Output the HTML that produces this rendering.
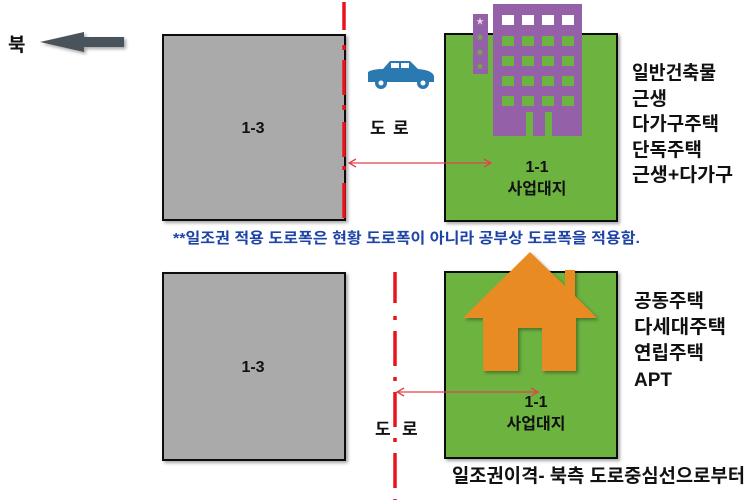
<!DOCTYPE html>
<html><head><meta charset="utf-8"><style>
html,body{margin:0;padding:0;background:#fff;}
svg{display:block;}
text{font-family:"Liberation Sans","Noto Sans CJK KR",sans-serif;font-weight:bold;}
</style></head><body>
<svg width="750" height="500" viewBox="0 0 750 500" xmlns="http://www.w3.org/2000/svg">
<defs>
<filter id="sh" x="-10%" y="-10%" width="130%" height="130%"><feDropShadow dx="2" dy="2" stdDeviation="1.5" flood-color="#000" flood-opacity="0.35"/></filter>
</defs>
<text x="8" y="51" font-size="19" fill="#111">북</text>
<polygon points="40,42 84,32 84,37 124,37 124,47 84,47 84,52" fill="#4a525b" filter="url(#sh)"/>
<rect x="163" y="35" width="182" height="185" fill="#a9aaa9" stroke="#111" stroke-width="2" filter="url(#sh)"/>
<text x="253" y="133" font-size="16" fill="#111" text-anchor="middle">1-3</text>
<rect x="445" y="34" width="172" height="187" fill="#6db33f" stroke="#111" stroke-width="2" filter="url(#sh)"/>
<rect x="473" y="14" width="15" height="60" fill="#9461a8"/>
<text x="480" y="24" font-size="8" fill="#ddd" text-anchor="middle">★</text>
<text x="480" y="40" font-size="8" fill="#6db33f" text-anchor="middle">★</text>
<text x="480" y="55" font-size="8" fill="#6db33f" text-anchor="middle">★</text>
<text x="480" y="69" font-size="8" fill="#6db33f" text-anchor="middle">★</text>
<path d="M493,4 H582 V136 H552 V112 H545 V136 H533 V112 H526 V136 H493 Z" fill="#9461a8"/>
<g fill="#fff"><rect x="502" y="15" width="12" height="10"/><rect x="522" y="15" width="12" height="10"/><rect x="542" y="15" width="12" height="10"/><rect x="562" y="15" width="12" height="10"/></g>
<g fill="#6db33f">
<rect x="502" y="36" width="12" height="10"/><rect x="522" y="36" width="12" height="10"/><rect x="542" y="36" width="12" height="10"/><rect x="562" y="36" width="12" height="10"/>
<rect x="502" y="56" width="12" height="10"/><rect x="522" y="56" width="12" height="10"/><rect x="542" y="56" width="12" height="10"/><rect x="562" y="56" width="12" height="10"/>
<rect x="502" y="76" width="12" height="10"/><rect x="522" y="76" width="12" height="10"/><rect x="542" y="76" width="12" height="10"/><rect x="562" y="76" width="12" height="10"/>
<rect x="502" y="96" width="12" height="10"/><rect x="522" y="96" width="12" height="10"/><rect x="542" y="96" width="12" height="10"/><rect x="562" y="96" width="12" height="10"/>
</g>
<text x="537" y="172" font-size="16" fill="#111" text-anchor="middle">1-1</text>
<text x="537" y="194" font-size="16" fill="#111" text-anchor="middle">사업대지</text>
<g fill="#2a79b0">
<path d="M368,72 Q372,69 383,69 L390,61 H410 L418,69 Q432,70 434,76 V82 H368 Z"/>
<circle cx="381" cy="83" r="6"/><circle cx="423" cy="83" r="6"/>
</g>
<g fill="#fff"><rect x="391" y="63" width="8" height="5"/><rect x="401" y="63" width="8" height="5"/><circle cx="381" cy="83" r="2.5"/><circle cx="423" cy="83" r="2.5"/></g>
<text x="370" y="134" font-size="17" fill="#111">도</text>
<text x="393" y="134" font-size="17" fill="#111">로</text>
<line x1="344" y1="2" x2="344" y2="218" stroke="#e8141b" stroke-width="3.5" stroke-dasharray="28 15 5 10 35 10 5 12 35 9 4 13 35" />
<g stroke="#e0444a" stroke-width="1.3" fill="none">
<line x1="349" y1="163" x2="491" y2="163"/>
<polyline points="356,159 349,163 356,167"/><polyline points="484,159 491,163 484,167"/>
</g>
<text x="173" y="243" font-size="15" fill="#1e44a8" textLength="467" lengthAdjust="spacingAndGlyphs">**일조권 적용 도로폭은 현황 도로폭이 아니라 공부상 도로폭을 적용함.</text>
<g font-size="19" fill="#111">
<text x="632" y="79" textLength="84" lengthAdjust="spacingAndGlyphs">일반건축물</text>
<text x="632" y="105">근생</text>
<text x="632" y="130" textLength="87" lengthAdjust="spacingAndGlyphs">다가구주택</text>
<text x="632" y="156">단독주택</text>
<text x="632" y="181" textLength="101" lengthAdjust="spacingAndGlyphs">근생+다가구</text>
<text x="634" y="307">공동주택</text>
<text x="634" y="333" textLength="92" lengthAdjust="spacingAndGlyphs">다세대주택</text>
<text x="634" y="359">연립주택</text>
<text x="634" y="386">APT</text>
</g>
<rect x="163" y="273" width="182" height="187" fill="#a9aaa9" stroke="#111" stroke-width="2" filter="url(#sh)"/>
<text x="253" y="372" font-size="16" fill="#111" text-anchor="middle">1-3</text>
<rect x="445" y="272" width="172" height="186" fill="#6db33f" stroke="#111" stroke-width="2" filter="url(#sh)"/>
<path d="M530,252 L565,286 V270 H575 V296 L597,318 H576 V371 H542 V328 H518 V371 H483 V318 H463 Z" fill="#e88b22" filter="url(#sh)"/>
<text x="536" y="407" font-size="16" fill="#111" text-anchor="middle">1-1</text>
<text x="536" y="429" font-size="16" fill="#111" text-anchor="middle">사업대지</text>
<text x="375" y="435" font-size="17" fill="#111">도</text>
<text x="402" y="435" font-size="17" fill="#111">로</text>
<line x1="395" y1="272" x2="395" y2="500" stroke="#e8141b" stroke-width="3.5" stroke-dasharray="31 13 4 11 35 11 4 11 35 11 4 11 35 11 4 11 35" />
<g stroke="#e0444a" stroke-width="1.3" fill="none">
<line x1="397" y1="392" x2="538" y2="392"/>
<polyline points="404,388 397,392 404,396"/><polyline points="531,388 538,392 531,396"/>
</g>
<text x="452" y="482" font-size="19" fill="#111" textLength="293" lengthAdjust="spacingAndGlyphs">일조권이격- 북측 도로중심선으로부터</text>
</svg>
</body></html>
